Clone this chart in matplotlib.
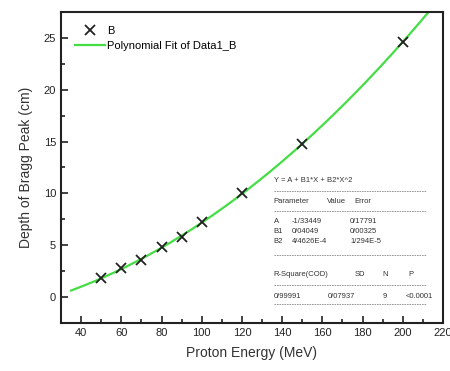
import numpy as np
import matplotlib
matplotlib.use("Agg")
import matplotlib.pyplot as plt
from matplotlib.ticker import MultipleLocator

plt.rcParams['font.family'] = ['Liberation Sans', 'DejaVu Sans']

# data
energy = [50, 60, 70, 80, 90, 100, 120, 150, 200]
depth = [1.8, 2.8, 3.6, 4.8, 5.8, 7.2, 10.0, 14.8, 24.6]

# fit coefficients from the box
A, B1, B2 = -1.33449, 0.04049, 4.4626e-4

fig = plt.figure(figsize=(4.5, 3.71), dpi=100)
ax = fig.add_axes([0.1356, 0.1294, 0.8488, 0.8383])

xf = np.linspace(35, 216, 200)
yf = A + B1 * xf + B2 * xf ** 2
ax.plot(energy, depth, 'x', color='#222222', ms=7, mew=1.3, label='B', zorder=3)
ax.plot(xf, yf, color='#44dd44', lw=1.6, label='Polynomial Fit of Data1_B')

ax.set_xlim(30, 220)
ax.set_ylim(-2.5, 27.5)
ax.xaxis.set_major_locator(MultipleLocator(20))
ax.xaxis.set_minor_locator(MultipleLocator(10))
ax.yaxis.set_major_locator(MultipleLocator(5))
ax.yaxis.set_minor_locator(MultipleLocator(2.5))
ax.tick_params(which='both', direction='in', labelsize=8, colors='#222222')
ax.tick_params(which='major', length=5, width=1.2)
ax.tick_params(which='minor', length=3, width=1.2)
ax.set_xticks([40, 60, 80, 100, 120, 140, 160, 180, 200, 220])
for s in ax.spines.values():
    s.set_linewidth(1.5)
    s.set_color('#222222')

ax.set_xlabel('Proton Energy (MeV)', fontsize=10, color='#333333', labelpad=6)
ax.set_ylabel('Depth of Bragg Peak (cm)', fontsize=10, color='#333333', labelpad=8)

leg = ax.legend(loc='upper left', bbox_to_anchor=(0.025, 0.968), frameon=False,
                fontsize=8, handlelength=2.7, borderaxespad=0, handletextpad=0.2,
                labelspacing=0.4)

# fit statistics box
fs = 5.5
tc = '#333333'
ax.text(135.7, 11.2, 'Y = A + B1*X + B2*X^2', fontsize=fs, color=tc, va='center')
for yy in [10.2, 8.3, 4.1, 1.2, -0.7]:
    ax.plot([135.7, 211.5], [yy, yy], ls=(0, (2, 1)), lw=0.6, color='#888888')
ax.text(135.7, 9.2, 'Parameter', fontsize=fs, color=tc, va='center')
ax.text(162.4, 9.2, 'Value', fontsize=fs, color=tc, va='center')
ax.text(175.8, 9.2, 'Error', fontsize=fs, color=tc, va='center')

params = ['A', 'B1', 'B2']
values = ['-1/33449', '0/04049', '4/4626E-4']
errors = ['0/17791', '0/00325', '1/294E-5']
for p, v, e, yy in zip(params, values, errors, [7.3, 6.3, 5.4]):
    ax.text(135.7, yy, p, fontsize=fs, color=tc, va='center')
    ax.text(144.6, yy, v, fontsize=fs, color=tc, va='center')
    ax.text(173.8, yy, e, fontsize=fs, color=tc, va='center')

ax.text(135.7, 2.2, 'R-Square(COD)', fontsize=fs, color=tc, va='center')
ax.text(176.3, 2.2, 'SD', fontsize=fs, color=tc, va='center')
ax.text(190.1, 2.2, 'N', fontsize=fs, color=tc, va='center')
ax.text(202.6, 2.2, 'P', fontsize=fs, color=tc, va='center')
ax.text(135.7, 0.1, '0/99991', fontsize=fs, color=tc, va='center')
ax.text(162.9, 0.1, '0/07937', fontsize=fs, color=tc, va='center')
ax.text(190.1, 0.1, '9', fontsize=fs, color=tc, va='center')
ax.text(201.6, 0.1, '<0.0001', fontsize=fs, color=tc, va='center')

fig.savefig('out.png', dpi=100)
